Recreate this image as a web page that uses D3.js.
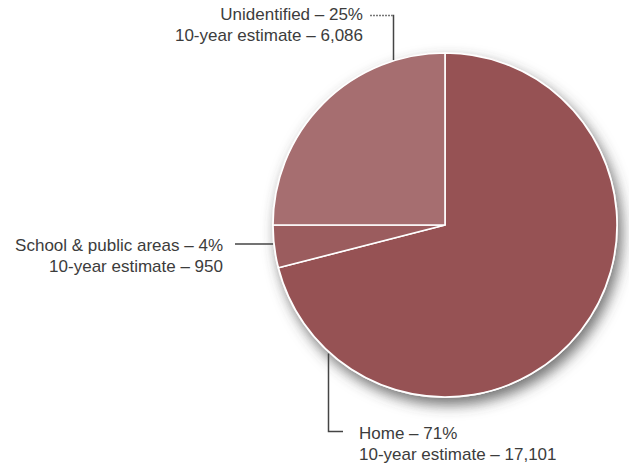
<!DOCTYPE html>
<html>
<head>
<meta charset="utf-8">
<script src="https://cdn.jsdelivr.net/npm/d3@7/dist/d3.min.js"></script>
<style>
  body { margin: 0; background: #fff; }
  text { font-family: "Liberation Sans", Arial, sans-serif; font-size: 17px; fill: #3c3c3c; }
</style>
</head>
<body>
<script>
// slice data (percent shares drive the angles, estimates are shown in labels)
let categories = ["Home", "School & public areas", "Unidentified"];
let percents = [71, 4, 25];
let estimates = ["17,101", "950", "6,086"];
let colors = ["#965254", "#9b5c5e", "#a66e70"];

let width = 629, height = 465;
let cx = 445, cy = 225, radius = 172;

let svg = d3.select("body").append("svg")
  .attr("width", width)
  .attr("height", height);

let defs = svg.append("defs");
let filter = defs.append("filter")
  .attr("id", "shadow")
  .attr("x", "-20%").attr("y", "-20%")
  .attr("width", "140%").attr("height", "140%");
filter.append("feDropShadow")
  .attr("dx", 4).attr("dy", 7)
  .attr("stdDeviation", 7)
  .attr("flood-color", "#444")
  .attr("flood-opacity", 0.75);

let data = categories.map((c, i) => ({
  name: c, value: percents[i], estimate: estimates[i], color: colors[i]
}));

let pie = d3.pie()
  .sort(null)
  .value(d => d.value);

let arc = d3.arc()
  .innerRadius(0)
  .outerRadius(radius);

let g = svg.append("g")
  .attr("transform", "translate(" + cx + "," + cy + ")");

// base disc with shadow
g.append("circle")
  .attr("r", radius + 1)
  .attr("fill", "#f4eeee")
  .attr("filter", "url(#shadow)");

g.selectAll("path.slice")
  .data(pie(data))
  .enter().append("path")
  .attr("class", "slice")
  .attr("d", arc)
  .attr("fill", d => d.data.color)
  .attr("stroke", "#fff")
  .attr("stroke-width", 1.6)
  .attr("stroke-linejoin", "round");

// point on the rim at a given x (top or bottom half)
function rimY(x, sign) {
  let dx = x - cx;
  return cy + sign * Math.sqrt(radius * radius - dx * dx);
}
function rimX(y) {
  let dy = y - cy;
  return cx - Math.sqrt(radius * radius - dy * dy);
}

// leader lines
let leaders = svg.append("g")
  .attr("fill", "none")
  .attr("stroke", "#444")
  .attr("stroke-width", 1.5);

// Unidentified (short dotted stub, then solid drop)
leaders.append("path")
  .attr("d", "M370,15.5H392.5")
  .attr("stroke", "#777")
  .attr("stroke-dasharray", "2,1");
leaders.append("path")
  .attr("d", "M392.5,15.5H393.5V" + (rimY(393.5, -1) - 1));
// School & public areas
leaders.append("path")
  .attr("d", "M235,244H" + (rimX(244) - 1));
// Home
leaders.append("path")
  .attr("d", "M328.5," + (rimY(328.5, 1) + 2) + "V431.5H343");

// labels
function label(x, y, anchor, lines) {
  let t = svg.append("text")
    .attr("text-anchor", anchor);
  lines.forEach((s, i) => {
    t.append("tspan")
      .attr("x", x)
      .attr("y", y + i * 21)
      .text(s);
  });
}

label(363, 20, "end", [data[2].name + " \u2013 " + data[2].value + "%", "10-year estimate \u2013 " + data[2].estimate]);
label(223, 251, "end", [data[1].name + " \u2013 " + data[1].value + "%", "10-year estimate \u2013 " + data[1].estimate]);
label(359, 439, "start", [data[0].name + " \u2013 " + data[0].value + "%", "10-year estimate \u2013 " + data[0].estimate]);
</script>
</body>
</html>
